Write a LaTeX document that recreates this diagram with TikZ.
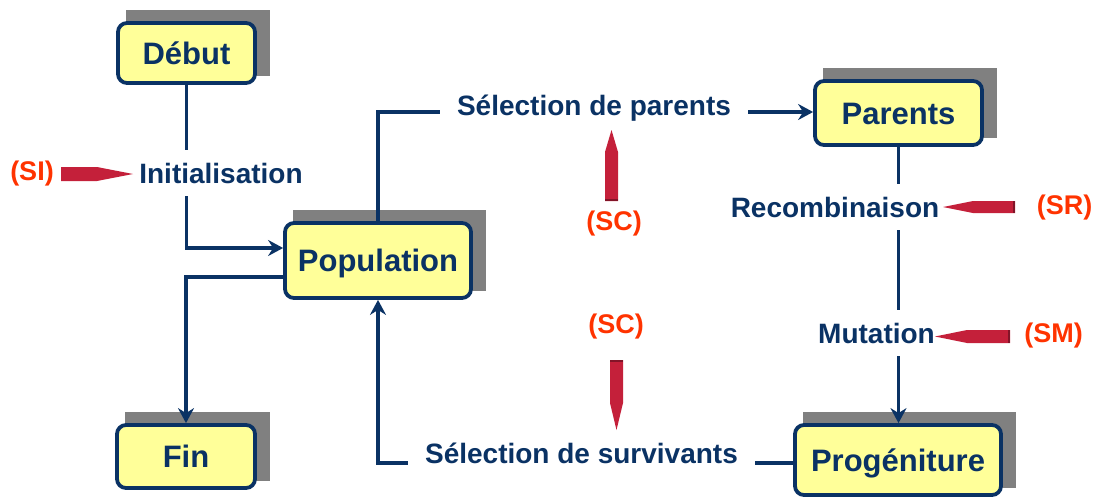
\documentclass[tikz,border=0pt]{standalone}
\usepackage{fontspec}
\setmainfont{Liberation Sans}
\usetikzlibrary{arrows.meta,backgrounds}
\definecolor{navy}{RGB}{10,50,100}
\definecolor{boxfill}{RGB}{255,255,153}
\definecolor{shade}{RGB}{128,128,128}
\definecolor{tagred}{RGB}{255,51,0}
\definecolor{arrowred}{RGB}{196,32,58}
\definecolor{arrowedge}{RGB}{130,20,40}
\tikzset{
  stage/.style={draw=navy, line width=3.8pt, fill=boxfill, rounded corners=9pt,
    inner sep=0pt, text=navy, font=\bfseries\fontsize{31}{31}\selectfont,
    text height=22pt, text depth=0pt},
  oper/.style={text=navy, font=\bfseries\fontsize{28}{28}\selectfont,
    text height=20pt, text depth=0pt, inner xsep=17pt, inner ysep=13pt, anchor=base},
  tag/.style={text=tagred, font=\bfseries\fontsize{27}{27}\selectfont,
    anchor=base, inner sep=0pt},
  flow/.style={draw=navy, line width=3.4pt},
  flowto/.style={flow, -{Stealth[length=15pt,width=16pt,inset=5pt]}},
  shadowbox/.style={fill=shade},
  blockarrow/.style={fill=arrowred},
  blockend/.style={draw=arrowedge, line width=1.6pt},
}
\begin{document}
\begin{tikzpicture}[x=1pt,y=-1pt]
\useasboundingbox (0,0) rectangle (1096,498);

% stages of the algorithm
\node[stage, minimum width=137pt, minimum height=60pt] (debut)   at (186.5,53)   {Début};
\node[stage, minimum width=186pt, minimum height=75pt] (pop)     at (378,260.5)  {Population};
\node[stage, minimum width=167pt, minimum height=64pt] (parents) at (898.5,113)  {Parents};
\node[stage, minimum width=138pt, minimum height=63pt] (fin)     at (186,456.5)  {Fin};
\node[stage, minimum width=206pt, minimum height=70pt] (prog)    at (898,460)    {Progéniture};

% offset grey shadows behind the stages
\begin{scope}[on background layer]
  \foreach \b in {debut,pop,parents,fin,prog}
    \fill[shadowbox] ([shift={(10,-11)}]\b.north west) rectangle ([shift={(13,-9)}]\b.south east);
\end{scope}

% operators
\node[oper] (init)   at (221,183)   {Initialisation};
\node[oper] (selp)   at (594,115)   {Sélection de parents};
\node[oper] (recomb) at (835,217)   {Recombinaison};
\node[oper] (mut)    at (876.5,343) {Mutation};
\node[oper] (sels)   at (581.5,463) {Sélection de survivants};

% strategy tags
\node[tag] (si)  at (32,180)     {(SI)};
\node[tag] (sc1) at (614,230)    {(SC)};
\node[tag] (sc2) at (616,333)    {(SC)};
\node[tag] (sr)  at (1064.5,214) {(SR)};
\node[tag] (sm)  at (1053.5,342) {(SM)};

% flow of the algorithm
\draw[flow]   (debut.south) -- (debut.south |- init.north);
\draw[flowto] (debut.south |- init.south) |- ([yshift=12.5pt]pop.west);
\draw[flowto] ([yshift=-16.5pt]pop.west) -| (fin.north);
\coordinate (selpin)  at ([yshift=3pt]selp.base west);
\coordinate (selpout) at ([yshift=3pt]selp.base east);
\draw[flow]   (pop.north) |- (selpin);
\draw[flowto] (selpout) -- (selpout -| parents.west);
\draw[flow]   (parents.south) -- (parents.south |- recomb.north);
\draw[flow]   (parents.south |- recomb.south) -- (parents.south |- mut.north);
\draw[flowto] (parents.south |- mut.south) -- (parents.south |- prog.north);
\draw[flow]   (prog.west |- sels.base) -- (sels.base east);
\draw[flowto] (sels.base west) -| (pop.south);

% tapered strategy arrows
\fill[blockarrow] (61,167) -- (97,167) -- (133,174) -- (97,181) -- (61,181) -- cycle;
\fill[blockarrow] (605,201) -- (605,152) -- (611.5,130) -- (618,152) -- (618,201) -- cycle;
\draw[blockend]   (605,200.2) -- (618,200.2);
\fill[blockarrow] (610,360) -- (623,360) -- (623,403) -- (616.5,430) -- (610,403) -- cycle;
\draw[blockend]   (610,360.8) -- (623,360.8);
\fill[blockarrow] (1015,201) -- (973,201) -- (943,207) -- (973,213) -- (1015,213) -- cycle;
\draw[blockend]   (1014.2,201) -- (1014.2,213);
\fill[blockarrow] (1010,330) -- (967,330) -- (935,336.5) -- (967,343) -- (1010,343) -- cycle;
\draw[blockend]   (1009.2,330) -- (1009.2,343);
\end{tikzpicture}
\end{document}
